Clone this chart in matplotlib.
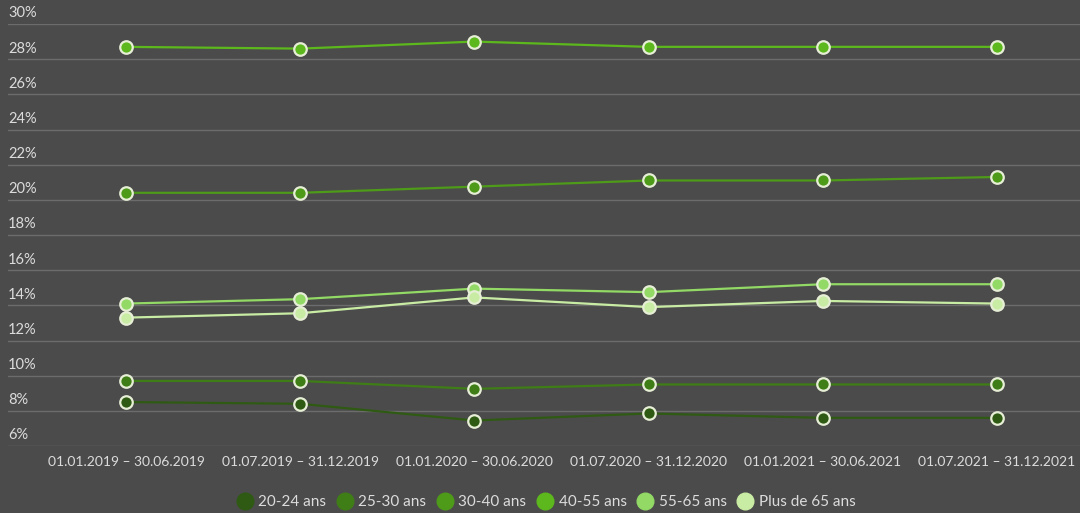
import matplotlib
matplotlib.use("Agg")
import matplotlib.pyplot as plt
from matplotlib.lines import Line2D

categories = ["01.01.2019 – 30.06.2019", "01.07.2019 – 31.12.2019",
              "01.01.2020 – 30.06.2020", "01.07.2020 – 31.12.2020",
              "01.01.2021 – 30.06.2021", "01.07.2021 – 31.12.2021"]
series_names = ["20-24 ans", "25-30 ans", "30-40 ans", "40-55 ans", "55-65 ans", "Plus de 65 ans"]
v_20_24 = [8.5, 8.4, 7.45, 7.85, 7.6, 7.6]
v_25_30 = [9.7, 9.7, 9.25, 9.5, 9.5, 9.5]
v_30_40 = [20.4, 20.4, 20.75, 21.1, 21.1, 21.3]
v_40_55 = [28.7, 28.6, 29.0, 28.7, 28.7, 28.7]
v_55_65 = [14.1, 14.35, 14.95, 14.75, 15.2, 15.2]
v_65p = [13.3, 13.55, 14.45, 13.9, 14.25, 14.1]
yticks = [6, 8, 10, 12, 14, 16, 18, 20, 22, 24, 26, 28, 30]

colors = ["#2f5a13", "#3f7d16", "#4e9a19", "#5cb81c", "#92d965", "#c9eca4"]
values = [v_20_24, v_25_30, v_30_40, v_40_55, v_55_65, v_65p]

bg = "#4b4b4b"
txt = "#dcdcdc"
font = "Lato"

fig = plt.figure(figsize=(10.8, 5.13), dpi=100, facecolor=bg)
ax = fig.add_axes([8/1080, 1-446/513, 1072/1080, (446-24)/513])
ax.set_facecolor(bg)
x = list(range(len(categories)))
ax.set_xlim(-0.677, 5.476)
ax.set_ylim(6, 30)
for s in ax.spines.values():
    s.set_visible(False)
for t in yticks:
    ax.axhline(t, color="#6c6c6c", lw=1.0, zorder=1)
    ax.text(0, t + 0.2, f"{t}%", transform=ax.get_yaxis_transform(),
            ha="left", va="bottom", color=txt, fontsize=10.5, family=font)
ax.set_yticks([])
ax.set_xticks(x)
ax.set_xticklabels(categories, color=txt, fontsize=10, family=font)
ax.tick_params(axis="x", length=0, pad=7)

for name, vals, c in zip(series_names, values, colors):
    ax.plot(x, vals, color=c, lw=1.6, marker="o", markersize=9,
            markerfacecolor=c, markeredgecolor="#e6efd6", markeredgewidth=1.6,
            zorder=3, label=name)

handles = [Line2D([], [], marker="o", ls="", markersize=12, markerfacecolor=c,
                  markeredgecolor=c) for c in colors]
leg = fig.legend(handles, series_names, loc="center", bbox_to_anchor=(0.505, 0.021),
                 ncol=6, frameon=False, handletextpad=0.3, columnspacing=0.6,
                 prop={"family": font, "size": 11}, handlelength=1.2)
for t in leg.get_texts():
    t.set_color(txt)

fig.savefig("out.png", dpi=100, facecolor=bg)
